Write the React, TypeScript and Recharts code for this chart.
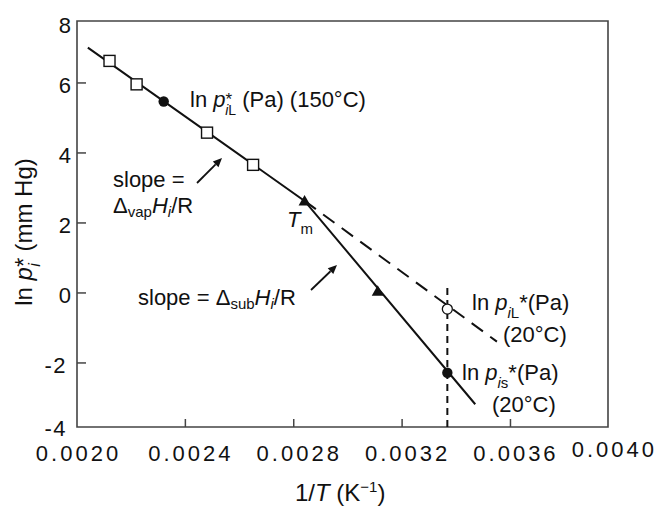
import {
  ComposedChart,
  Line,
  Scatter,
  XAxis,
  YAxis,
  ReferenceArea,
  Customized,
} from "recharts";

const FONT = "'Liberation Sans', Arial, sans-serif";
const INK = "#111";
const AXIS = "#444";

// axis ranges and ticks (the drawn box ends just short of 0.0040 and 8 / -4)
const X_DOMAIN = [0.002, 0.00396];
const Y_DOMAIN = [-3.83, 7.77];
const X_TICKS = [0.002, 0.0024, 0.0028, 0.0032, 0.0036, 0.004];
const Y_TICKS = [-4, -2, 0, 2, 4, 6, 8];

// solid line: liquid branch down to Tm, then the sublimation branch
const solidX = [0.00204, 0.00284, 0.00347];
const solidY = [7.01, 2.63, -3.18];
// dashed: liquid branch carried on below Tm
const dashX = [0.00284, 0.00355];
const dashY = [2.63, -1.39];
// dotted vertical at 20°C
const tempX = [0.003367, 0.003367];
const tempY = [0.14, -3.83];

// markers
const squareX = [0.00212, 0.00222, 0.00248, 0.00265];
const squareY = [6.63, 5.96, 4.58, 3.66];
const triX = [0.00284, 0.00311];
const triY = [2.63, 0.05];
const dotX = [0.00232, 0.003367];
const dotY = [5.47, -2.28];
const ringX = [0.003367];
const ringY = [-0.46];

const PLOT_TOP = 21;
const PLOT_BOTTOM = 427;

const toPoints = (xs: number[], ys: number[]) =>
  xs.map((x, i) => ({ x, y: ys[i] }));

const XTick = ({ x, y, payload }: any) => {
  const v = payload.value;
  const first = Math.abs(v - X_TICKS[0]) < 1e-9;
  const last = Math.abs(v - X_TICKS[X_TICKS.length - 1]) < 1e-9;
  return (
    <g>
      {!first && !last && (
        <line x1={x} x2={x} y1={y} y2={y - 8} stroke={AXIS} strokeWidth={1.5} />
      )}
      <text
        x={x + (first ? 1.5 : last ? -4.5 : 5.5)}
        y={y + (last ? 30 : 34)}
        textAnchor="middle"
        fontFamily={FONT}
        fontSize={22}
        letterSpacing={3}
        fill={INK}
      >
        {v.toFixed(4)}
      </text>
    </g>
  );
};

const YTick = ({ x, y, payload }: any) => {
  const v = payload.value;
  const edge = y < PLOT_TOP + 1 || y > PLOT_BOTTOM - 1;
  const cy = Math.min(Math.max(y + 2, PLOT_TOP + 4), PLOT_BOTTOM + 1);
  return (
    <g>
      {!edge && (
        <line x1={x} x2={x + 9} y1={y} y2={y} stroke={AXIS} strokeWidth={1.5} />
      )}
      <text
        x={x - (v < 0 ? 10 : 4.5)}
        y={cy + 8}
        textAnchor="end"
        fontFamily={FONT}
        fontSize={22}
        letterSpacing={1.5}
        fill={INK}
      >
        {String(v)}
      </text>
    </g>
  );
};

const SquareMark = ({ cx, cy }: any) => (
  <rect x={cx - 5.5} y={cy - 5.5} width={11} height={11} fill="#fff" stroke={INK} strokeWidth={1.4} />
);
const TriMark = ({ cx, cy }: any) => (
  <polygon points={`${cx},${cy - 6} ${cx + 6},${cy + 4.5} ${cx - 6},${cy + 4.5}`} fill={INK} />
);
const DotMark = ({ cx, cy }: any) => <circle cx={cx} cy={cy} r={5.2} fill={INK} />;
const RingMark = ({ cx, cy }: any) => (
  <circle cx={cx} cy={cy} r={5} fill="#fff" stroke={INK} strokeWidth={1.3} />
);

const Arrow = ({ x1, y1, x2, y2 }: any) => {
  const a = Math.atan2(y2 - y1, x2 - x1);
  const bx = x2 - 9 * Math.cos(a);
  const by = y2 - 9 * Math.sin(a);
  const px = -Math.sin(a) * 4;
  const py = Math.cos(a) * 4;
  return (
    <g>
      <line x1={x1} y1={y1} x2={bx} y2={by} stroke={INK} strokeWidth={1.8} />
      <polygon points={`${x2},${y2} ${bx + px},${by + py} ${bx - px},${by - py}`} fill={INK} />
    </g>
  );
};

// labels, arrows and axis titles
const Notes = () => (
  <g fontFamily={FONT} fill={INK}>
    <text x={190} y={107} fontSize={22}>
      {"ln "}
      <tspan fontStyle="italic">p</tspan>
      <tspan fontSize={17} dy={-2}>*</tspan>
      <tspan dx={-7} dy={10} fontSize={14} fontStyle="italic">i</tspan>
      <tspan fontSize={14}>L</tspan>
      <tspan dy={-8}>{" (Pa) (150°C)"}</tspan>
    </text>

    <text x={113} y={187} fontSize={22}>slope =</text>
    <text x={113} y={213} fontSize={22}>
      {"Δ"}
      <tspan dy={4} fontSize={15}>vap</tspan>
      <tspan dy={-4} fontStyle="italic">H</tspan>
      <tspan dy={4} fontSize={15} fontStyle="italic">i</tspan>
      <tspan dy={-4}>/R</tspan>
    </text>
    <Arrow x1={197} y1={183} x2={222} y2={158} />

    <text x={287} y={227} fontSize={22}>
      <tspan fontStyle="italic">T</tspan>
      <tspan dy={7} fontSize={15}>m</tspan>
    </text>

    <text x={138} y={305} fontSize={22}>
      {"slope = Δ"}
      <tspan dy={4} fontSize={15}>sub</tspan>
      <tspan dy={-4} fontStyle="italic">H</tspan>
      <tspan dy={4} fontSize={15} fontStyle="italic">i</tspan>
      <tspan dy={-4}>/R</tspan>
    </text>
    <Arrow x1={311} y1={290} x2={337} y2={265} />

    <text x={472} y={310} fontSize={22}>
      {"ln "}
      <tspan fontStyle="italic">p</tspan>
      <tspan dy={8} fontSize={15} fontStyle="italic">i</tspan>
      <tspan fontSize={15}>L</tspan>
      <tspan dy={-8}>*(Pa)</tspan>
    </text>
    <text x={503} y={342} fontSize={22}>(20°C)</text>

    <text x={462} y={380} fontSize={22}>
      {"ln "}
      <tspan fontStyle="italic">p</tspan>
      <tspan dy={8} fontSize={15} fontStyle="italic">i</tspan>
      <tspan fontSize={15}>s</tspan>
      <tspan dy={-8}>*(Pa)</tspan>
    </text>
    <text x={492} y={412} fontSize={22}>(20°C)</text>

    <text x={295} y={501} fontSize={24}>
      {"1/"}
      <tspan fontStyle="italic">T</tspan>
      {" (K"}
      <tspan dy={-9} fontSize={15}>−1</tspan>
      <tspan dy={9}>)</tspan>
    </text>

    <text x={32} y={232} fontSize={24} textAnchor="middle" transform="rotate(-90 32 232)">
      {"ln "}
      <tspan fontStyle="italic">p</tspan>
      <tspan>*</tspan>
      <tspan dx={-9} dy={8} fontSize={16} fontStyle="italic">i</tspan>
      <tspan dx={5} dy={-8}>{" (mm Hg)"}</tspan>
    </text>
  </g>
);

export default function App() {
  return (
    <div style={{ position: "absolute", left: 0, top: 0 }}>
      <ComposedChart
        width={658}
        height={506}
        margin={{ top: PLOT_TOP, right: 50, bottom: 49, left: 17 }}
      >
        <XAxis
          type="number"
          dataKey="x"
          domain={X_DOMAIN}
          allowDataOverflow
          ticks={X_TICKS}
          interval={0}
          axisLine={false}
          tickLine={false}
          tickSize={0}
          tickMargin={0}
          height={30}
          tick={(p: any) => <XTick {...p} />}
        />
        <YAxis
          type="number"
          dataKey="y"
          domain={Y_DOMAIN}
          allowDataOverflow
          ticks={Y_TICKS}
          interval={0}
          axisLine={false}
          tickLine={false}
          tickSize={0}
          tickMargin={0}
          width={60}
          tick={(p: any) => <YTick {...p} />}
        />
        <ReferenceArea
          x1={X_DOMAIN[0]}
          x2={X_DOMAIN[1]}
          y1={Y_DOMAIN[0]}
          y2={Y_DOMAIN[1]}
          fill="none"
          stroke={AXIS}
          strokeWidth={1.6}
        />
        <Line
          data={toPoints(tempX, tempY)}
          dataKey="y"
          type="linear"
          stroke={INK}
          strokeWidth={2}
          strokeDasharray="7 5"
          dot={false}
          activeDot={false}
          isAnimationActive={false}
        />
        <Line
          data={toPoints(dashX, dashY)}
          dataKey="y"
          type="linear"
          stroke={INK}
          strokeWidth={2}
          strokeDasharray="14 9"
          dot={false}
          activeDot={false}
          isAnimationActive={false}
        />
        <Line
          data={toPoints(solidX, solidY)}
          dataKey="y"
          type="linear"
          stroke={INK}
          strokeWidth={2}
          dot={false}
          activeDot={false}
          isAnimationActive={false}
        />
        <Scatter data={toPoints(squareX, squareY)} shape={(p: any) => <SquareMark {...p} />} isAnimationActive={false} />
        <Scatter data={toPoints(triX, triY)} shape={(p: any) => <TriMark {...p} />} isAnimationActive={false} />
        <Scatter data={toPoints(dotX, dotY)} shape={(p: any) => <DotMark {...p} />} isAnimationActive={false} />
        <Scatter data={toPoints(ringX, ringY)} shape={(p: any) => <RingMark {...p} />} isAnimationActive={false} />
        <Customized component={Notes} />
      </ComposedChart>
    </div>
  );
}
